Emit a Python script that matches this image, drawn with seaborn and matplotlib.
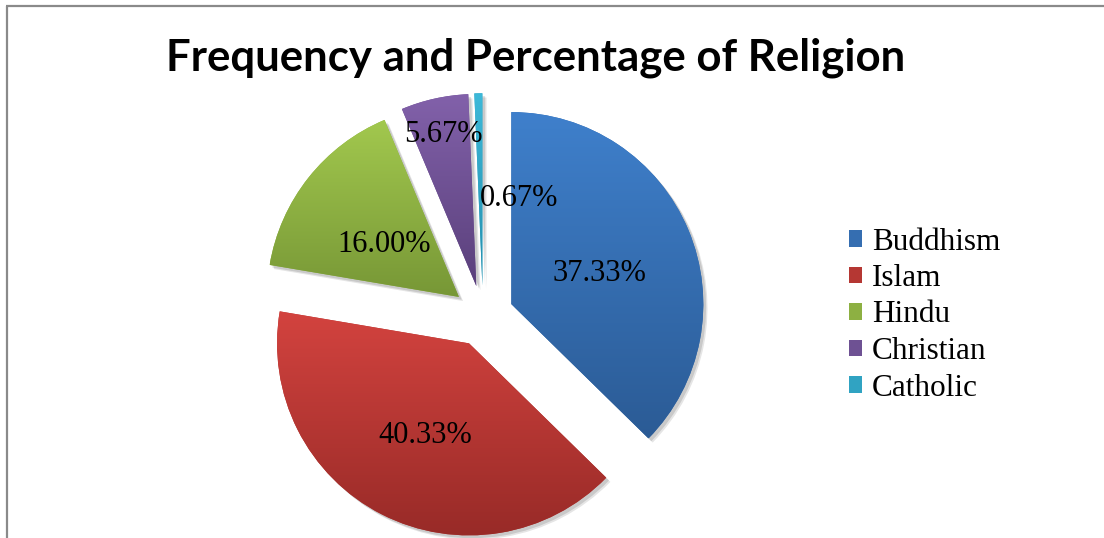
import numpy as np
import matplotlib
matplotlib.use("Agg")
import matplotlib.pyplot as plt
import matplotlib.patheffects as pe
from matplotlib.colors import to_rgb
from matplotlib.patches import Patch
import seaborn as sns

# Survey respondents by religion (n = 300)
religions = ["Buddhism", "Islam", "Hindu", "Christian", "Catholic"]
frequency = [112, 121, 48, 17, 2]

# Slice shading: lighter at the top of each slice, darker at the bottom
top_colors = ["#3F80CC", "#D3433F", "#A2C84E", "#8261AA", "#3DB9D9"]
bottom_colors = ["#2B5B95", "#972A27", "#779736", "#5A407B", "#238DAB"]

title = "Frequency and Percentage of Religion"

sns.set_theme(style="white")
plt.rcParams["font.family"] = ["Liberation Serif", "DejaVu Serif"]
plt.rcParams["text.color"] = "black"

W, H = 1104, 538
fig = plt.figure(figsize=(W / 100, H / 100), dpi=100)
ax = fig.add_axes([0, 0, 1, 1])
ax.set_axis_off()

legend_colors = [
    tuple((np.array(to_rgb(t)) + np.array(to_rgb(b))) / 2)
    for t, b in zip(top_colors, bottom_colors)
]
palette = sns.color_palette(legend_colors)

radius = 192
center = (483, 222)
wedges, _ = ax.pie(
    frequency,
    explode=[0.16 * radius] * len(frequency),
    startangle=90,
    counterclock=False,
    center=center,
    radius=radius,
    colors=palette,
    wedgeprops=dict(linewidth=0, zorder=1),
)

shadow = [
    pe.SimplePatchShadow(offset=(3, -3), shadow_rgbFace="#000000", alpha=0.10),
    pe.SimplePatchShadow(offset=(2, -2), shadow_rgbFace="#000000", alpha=0.12),
    pe.Normal(),
]

total = sum(frequency)
for w, top, bot, freq, name in zip(wedges, top_colors, bottom_colors, frequency, religions):
    w.set_path_effects(shadow)
    verts = w.get_path().vertices
    x0, x1 = verts[:, 0].min(), verts[:, 0].max()
    y0, y1 = verts[:, 1].min(), verts[:, 1].max()
    t = np.linspace(0, 1, 256)[:, None]
    grad = (1 - t) * np.array(to_rgb(bot)) + t * np.array(to_rgb(top))
    img = ax.imshow(
        grad[:, None, :],
        extent=[x0, x1, y0, y1],
        origin="lower",
        aspect="auto",
        interpolation="bilinear",
        zorder=2,
    )
    img.set_clip_path(w)

    # percentage label
    mid = np.deg2rad((w.theta1 + w.theta2) / 2)
    cx, cy = w.center
    if name == "Christian":
        dist = 0.82
        lx, ly = cx + dist * radius * np.cos(mid) + 1, cy + dist * radius * np.sin(mid) - 2
    elif name == "Catholic":
        ang = np.deg2rad(73)
        lx, ly = center[0] + 0.64 * radius * np.cos(ang), center[1] + 0.64 * radius * np.sin(ang)
    else:
        dist = 0.5
        lx, ly = cx + dist * radius * np.cos(mid), cy + dist * radius * np.sin(mid) - 7
    ax.text(lx, ly, f"{100 * freq / total:.2f}%", ha="center", va="center",
            fontsize=22, color="black", zorder=5)

ax.text(536, 467, title, ha="center", va="baseline", fontsize=31.5,
        fontweight="bold", color="black", family=["Lato", "DejaVu Sans"], zorder=5)

handles = [Patch(facecolor=c, edgecolor="none") for c in palette]
leg = ax.legend(
    handles, religions,
    loc="center left", bbox_to_anchor=(849 / W, 1 - 315 / H),
    bbox_transform=fig.transFigure,
    frameon=False, fontsize=22.5,
    handlelength=0.43, handleheight=0.43, handletextpad=0.3,
    labelspacing=0.24, borderpad=0, borderaxespad=0,
)
for txt in leg.get_texts():
    txt.set_color("black")

# chart area border (left and top edges)
ax.plot([6.5, 6.5], [0, H - 6], color="#8a8a8a", lw=1.6, zorder=6, solid_capstyle="butt")
ax.plot([6, W], [H - 6, H - 6], color="#8a8a8a", lw=1.6, zorder=6, solid_capstyle="butt")

ax.set_xlim(0, W)
ax.set_ylim(0, H)
ax.set_aspect("equal", adjustable="box")

fig.savefig("out.png", dpi=100, facecolor="white")
